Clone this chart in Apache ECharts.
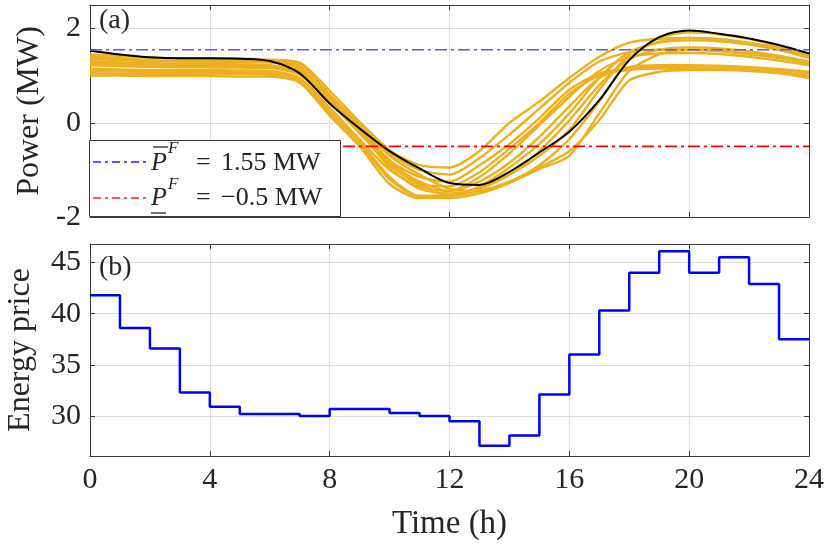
<!DOCTYPE html>
<html>
<head>
<meta charset="utf-8">
<script src="https://cdn.jsdelivr.net/npm/echarts@6/dist/echarts.min.js"></script>
<style>
  html, body { margin: 0; padding: 0; background: #ffffff; }
  #chart { width: 827px; height: 546px; }
</style>
</head>
<body>
<div id="chart"></div>
<script>
// Hourly time grid (h)
const hours = [0,1,2,3,4,5,6,7,8,9,10,11,12,13,14,15,16,17,18,19,20,21,22,23,24];

// Reference (black) power trajectory, MW
const powerRef = [1.53,1.45,1.39,1.37,1.37,1.36,1.31,1.05,0.41,-0.12,-0.60,-0.97,-1.28,-1.32,-1.04,-0.63,-0.19,0.48,1.33,1.82,1.96,1.89,1.79,1.65,1.47];

// Scenario power trajectories, MW
const scen1  = [1.45,1.42,1.38,1.37,1.36,1.36,1.34,1.28,0.68,0.02,-0.58,-0.90,-0.95,-0.60,0.00,0.45,0.95,1.40,1.70,1.78,1.80,1.78,1.70,1.60,1.45];
const scen2  = [1.40,1.37,1.33,1.32,1.32,1.31,1.30,1.25,0.60,-0.05,-0.65,-1.00,-1.10,-0.75,-0.25,0.30,0.85,1.30,1.50,1.55,1.55,1.52,1.45,1.38,1.30];
const scen3  = [1.30,1.28,1.26,1.25,1.25,1.24,1.22,1.10,0.50,-0.15,-0.80,-1.15,-1.25,-0.90,-0.45,0.10,0.70,1.05,1.15,1.18,1.18,1.17,1.15,1.12,1.05];
const scen4  = [1.22,1.20,1.19,1.18,1.18,1.17,1.16,1.02,0.42,-0.22,-0.90,-1.30,-1.35,-1.05,-0.55,0.00,0.62,1.00,1.12,1.15,1.15,1.14,1.12,1.08,1.00];
const scen5  = [1.15,1.13,1.12,1.12,1.12,1.11,1.10,0.95,0.32,-0.35,-1.00,-1.35,-1.45,-1.15,-0.65,-0.05,0.55,1.10,1.40,1.47,1.48,1.46,1.40,1.32,1.22];
const scen6  = [1.35,1.33,1.30,1.30,1.29,1.29,1.28,1.20,0.55,-0.10,-0.80,-1.30,-1.55,-1.35,-0.95,-0.45,0.20,0.95,1.50,1.70,1.75,1.73,1.66,1.55,1.40];
const scen7  = [1.38,1.35,1.32,1.31,1.31,1.30,1.29,1.15,0.58,-0.05,-0.70,-1.10,-1.40,-1.45,-1.25,-0.90,-0.35,0.45,1.35,1.80,1.92,1.88,1.78,1.63,1.45];
const scen8  = [1.10,1.09,1.08,1.08,1.08,1.07,1.06,0.90,0.25,-0.40,-1.15,-1.55,-1.55,-1.45,-1.25,-0.95,-0.60,0.06,0.90,1.08,1.12,1.12,1.10,1.05,0.95];
const scen9  = [1.05,1.04,1.04,1.03,1.03,1.03,1.02,0.88,0.20,-0.45,-1.20,-1.58,-1.60,-1.50,-1.28,-0.98,-0.70,0.20,1.10,1.45,1.55,1.53,1.47,1.38,1.25];
const scen10 = [1.00,1.00,0.99,0.99,0.99,0.98,0.98,0.85,0.15,-0.50,-1.30,-1.60,-1.55,-1.40,-1.10,-0.70,-0.15,0.70,1.45,1.72,1.80,1.76,1.67,1.55,1.38];
const scen11 = [1.25,1.23,1.22,1.21,1.21,1.20,1.18,1.05,0.45,-0.20,-0.85,-1.25,-1.45,-1.25,-0.85,-0.30,0.35,0.95,1.18,1.22,1.22,1.21,1.18,1.14,1.08];
const scen12 = [1.28,1.26,1.24,1.24,1.23,1.23,1.21,1.08,0.48,-0.18,-0.95,-1.40,-1.50,-1.40,-1.10,-0.60,0.05,0.80,1.35,1.55,1.60,1.58,1.52,1.42,1.30];
const scenarios = [scen1, scen2, scen3, scen4, scen5, scen6, scen7, scen8, scen9, scen10, scen11, scen12];

// Power limits, MW
const pUpper = 1.55;
const pLower = -0.5;

// Hourly energy price (value held over each hour; last entry closes hour 24)
const price = [41.8,38.6,36.6,32.3,30.9,30.2,30.2,30.0,30.7,30.7,30.3,30.0,29.5,27.1,28.1,32.1,36.0,40.3,44.0,46.1,44.0,45.5,42.9,37.5,37.5];

// Tick labels
const timeTicks = [0,4,8,12,16,20,24];
const powerTicks = [-2,0,2];
const priceTicks = [30,35,40,45];

const FONT = '"Liberation Serif", "DejaVu Serif", serif';
const TXT = '#262626';
const AXIS = '#3a3a3a';
const GRIDC = '#dedede';
const ORANGE = '#EDB120';

const pairs = (ys) => hours.map((h, i) => [h, ys[i]]);

const chart = echarts.init(document.getElementById('chart'), null, { renderer: 'canvas' });

const gridTop = { left: 90, right: 18, top: 5, height: 212, containLabel: false, outerBoundsMode: 'none' };
const gridBot = { left: 90, right: 18, top: 244, height: 212, containLabel: false, outerBoundsMode: 'none' };

function xAx(gridIndex, pos, labels) {
  return {
    type: 'value', gridIndex, position: pos, min: 0, max: 24, interval: 4,
    axisLine: { show: true, onZero: false, lineStyle: { color: AXIS, width: 1 } },
    axisTick: { show: true, inside: true, length: 5, lineStyle: { color: AXIS } },
    axisLabel: labels ? {
      show: true, color: TXT, fontFamily: FONT, fontSize: 30, margin: 9,
      formatter: v => (timeTicks.includes(v) ? String(v) : '')
    } : { show: false },
    splitLine: { show: pos === 'bottom', lineStyle: { color: GRIDC, width: 1 } },
    name: labels ? 'Time (h)' : '',
    nameLocation: 'middle', nameGap: 52,
    nameTextStyle: { color: TXT, fontFamily: FONT, fontSize: 33 }
  };
}

function yAx(gridIndex, pos, cfg) {
  const ticks = cfg.ticks;
  const ax = {
    type: 'value', gridIndex, position: pos, min: cfg.min, max: cfg.max,
    axisLine: { show: true, onZero: false, lineStyle: { color: AXIS, width: 1 } },
    axisTick: { show: true, inside: true, length: 5, lineStyle: { color: AXIS } },
    axisLabel: pos === 'left' ? {
      show: true, color: TXT, fontFamily: FONT, fontSize: 30, margin: 9,
      formatter: v => (ticks.includes(v) ? String(v) : '')
    } : { show: false },
    splitLine: { show: pos === 'left', lineStyle: { color: GRIDC, width: 1 } },
    name: pos === 'left' ? cfg.name : '',
    nameLocation: 'middle', nameGap: cfg.nameGap,
    nameTextStyle: { color: TXT, fontFamily: FONT, fontSize: 32 }
  };
  if (cfg.interval) ax.interval = cfg.interval;
  else ax.splitNumber = cfg.splitNumber;
  return ax;
}

const powCfg = { min: -2, max: 2.5, interval: 2, ticks: powerTicks, name: 'Power (MW)', nameGap: 42 };
const priCfg = { min: 26.1, max: 46.8, splitNumber: 4, ticks: priceTicks, name: 'Energy price', nameGap: 53 };

const series = [];
scenarios.forEach((s, k) => {
  series.push({
    name: 'scenario ' + (k + 1), type: 'line', xAxisIndex: 0, yAxisIndex: 0,
    data: pairs(s), showSymbol: false, smooth: 0.25,
    lineStyle: { color: ORANGE, width: 2.4 }, z: 2, silent: true
  });
});
series.push({
  name: 'reference', type: 'line', xAxisIndex: 0, yAxisIndex: 0,
  data: pairs(powerRef), showSymbol: false, smooth: 0.3,
  lineStyle: { color: '#000000', width: 2 }, z: 3
});
series.push({
  name: 'upper limit', type: 'line', xAxisIndex: 0, yAxisIndex: 0,
  data: [[0, pUpper], [24, pUpper]], showSymbol: false,
  lineStyle: { color: '#5a5aff', width: 1.6, type: [12, 4, 3, 4] }, z: 4
});
series.push({
  name: 'lower limit', type: 'line', xAxisIndex: 0, yAxisIndex: 0,
  data: [[0, pLower], [24, pLower]], showSymbol: false,
  lineStyle: { color: '#ff0000', width: 1.6, type: [12, 4, 3, 4] }, z: 4
});
series.push({
  name: 'price', type: 'line', xAxisIndex: 2, yAxisIndex: 2,
  data: pairs(price), step: 'end', showSymbol: false,
  lineStyle: { color: '#0000ff', width: 2.5 }, z: 3
});

// Legend box drawn as graphics (math-style labels with over/underbars)
const LF = '26px ' + FONT;
const legend = [
  { type: 'rect', shape: { x: 89.5, y: 140.5, width: 251, height: 76 },
    style: { fill: '#ffffff', stroke: AXIS, lineWidth: 1 }, z: 50 },
  { type: 'line', shape: { x1: 93, y1: 162, x2: 148, y2: 162 },
    style: { stroke: '#2020ff', lineWidth: 1.6, lineDash: [8, 4, 3, 4] }, z: 51 },
  { type: 'line', shape: { x1: 93, y1: 198, x2: 148, y2: 198 },
    style: { stroke: '#ff2020', lineWidth: 1.6, lineDash: [8, 4, 3, 4] }, z: 51 },
  { type: 'text', x: 151, y: 163, style: { text: 'P', font: 'italic ' + LF, fill: TXT, textVerticalAlign: 'middle' }, z: 51 },
  { type: 'line', shape: { x1: 153, y1: 147, x2: 168, y2: 147 }, style: { stroke: TXT, lineWidth: 1.3 }, z: 51 },
  { type: 'text', x: 168, y: 149, style: { text: 'F', font: 'italic 17px ' + FONT, fill: TXT, textVerticalAlign: 'middle' }, z: 51 },
  { type: 'text', x: 196, y: 163, style: { text: '=', font: LF, fill: TXT, textVerticalAlign: 'middle' }, z: 51 },
  { type: 'text', x: 221, y: 163, style: { text: '1.55 MW', font: LF, fill: TXT, textVerticalAlign: 'middle' }, z: 51 },
  { type: 'text', x: 151, y: 198, style: { text: 'P', font: 'italic ' + LF, fill: TXT, textVerticalAlign: 'middle' }, z: 51 },
  { type: 'line', shape: { x1: 151, y1: 213, x2: 166, y2: 213 }, style: { stroke: TXT, lineWidth: 1.3 }, z: 51 },
  { type: 'text', x: 168, y: 185, style: { text: 'F', font: 'italic 17px ' + FONT, fill: TXT, textVerticalAlign: 'middle' }, z: 51 },
  { type: 'text', x: 196, y: 198, style: { text: '=', font: LF, fill: TXT, textVerticalAlign: 'middle' }, z: 51 },
  { type: 'text', x: 221, y: 198, style: { text: '\u22120.5 MW', font: LF, fill: TXT, textVerticalAlign: 'middle' }, z: 51 },
  { type: 'text', x: 99, y: 21, style: { text: '(a)', font: '28px ' + FONT, fill: TXT, textVerticalAlign: 'middle' }, z: 51 },
  { type: 'text', x: 99, y: 268, style: { text: '(b)', font: '28px ' + FONT, fill: TXT, textVerticalAlign: 'middle' }, z: 51 }
];

chart.setOption({
  animation: false,
  backgroundColor: '#ffffff',
  grid: [gridTop, gridBot],
  xAxis: [xAx(0, 'bottom', false), xAx(0, 'top', false), xAx(1, 'bottom', true), xAx(1, 'top', false)],
  yAxis: [yAx(0, 'left', powCfg), yAx(0, 'right', powCfg), yAx(1, 'left', priCfg), yAx(1, 'right', priCfg)],
  series,
  graphic: legend
});
</script>
</body>
</html>
